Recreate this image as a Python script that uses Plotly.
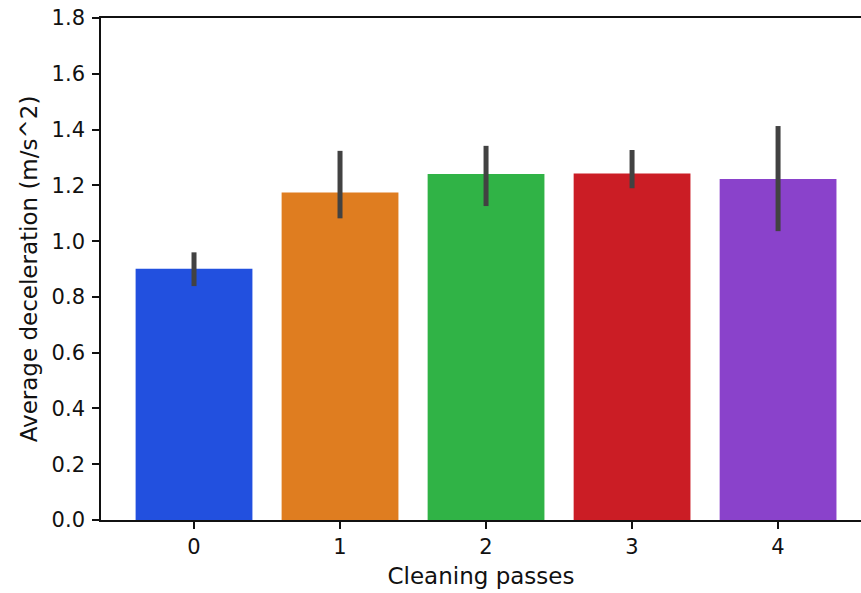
import plotly.graph_objects as go

categories = ["0", "1", "2", "3", "4"]
means = [0.901, 1.175, 1.241, 1.243, 1.223]
ci_upper = [0.960, 1.324, 1.342, 1.327, 1.413]
ci_lower = [0.839, 1.082, 1.126, 1.190, 1.036]
colors = ["#2250df", "#df7d20", "#30b346", "#cb1d25", "#8a42cb"]
y_ticks = [0.0, 0.2, 0.4, 0.6, 0.8, 1.0, 1.2, 1.4, 1.6, 1.8]

x_pos = list(range(len(categories)))
err_plus = [u - m for u, m in zip(ci_upper, means)]
err_minus = [m - l for m, l in zip(means, ci_lower)]

fig = go.Figure()
fig.add_trace(go.Bar(
    x=x_pos, y=means, width=0.8,
    marker=dict(color=colors, line=dict(width=0)),
    error_y=dict(type="data", symmetric=False, array=err_plus, arrayminus=err_minus,
                 color="#424242", thickness=5, width=0),
    showlegend=False,
))

tick_font = dict(family="DejaVu Sans", size=21, color="#111111")
title_font = dict(family="DejaVu Sans", size=23, color="#111111")
fig.update_layout(
    width=861, height=593,
    margin=dict(l=101, r=0, t=18, b=73, autoexpand=False),
    paper_bgcolor="white", plot_bgcolor="white",
    font=tick_font,
    xaxis=dict(
        range=[-0.637, 4.568],
        tickmode="array", tickvals=x_pos, ticktext=categories,
        tickfont=tick_font, ticklabeloverflow="allow",
        showline=True, linecolor="#111111", linewidth=1.6, mirror=True,
        ticks="outside", ticklen=7, tickwidth=1.5, tickcolor="#111111",
        showgrid=False, zeroline=False, automargin=False,
        title=dict(text="Cleaning passes", font=title_font, standoff=10),
    ),
    yaxis=dict(
        range=[0, 1.8005],
        tickmode="array", tickvals=y_ticks, ticktext=[f"{v:.1f}" for v in y_ticks],
        tickfont=tick_font, ticklabelstandoff=3, ticklabeloverflow="allow",
        showline=True, linecolor="#111111", linewidth=1.6, mirror=False,
        ticks="outside", ticklen=7, tickwidth=1.5, tickcolor="#111111",
        showgrid=False, zeroline=False, automargin=False,
        title=dict(text="Average deceleration (m/s^2)", font=title_font, standoff=8),
    ),
)

fig.write_html(
    "out.html",
    config={"displayModeBar": False},
    post_script="document.body.style.margin='0';document.body.style.overflow='hidden';",
)
